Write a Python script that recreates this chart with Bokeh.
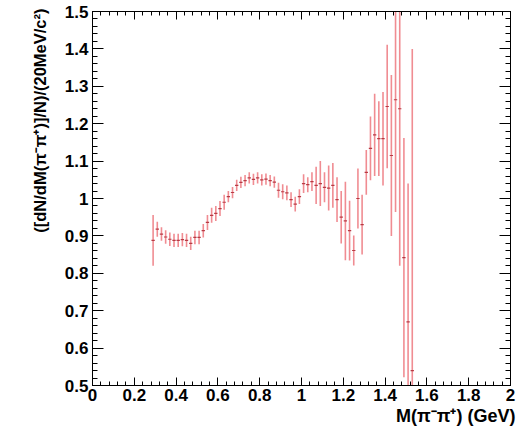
from bokeh.plotting import figure
from bokeh.models import LinearAxis, FixedTicker, Title, ColumnDataSource
from bokeh.embed import file_html
from bokeh.resources import INLINE

# bin centres (GeV), ratio values and their errors
mass = [0.29, 0.31, 0.33, 0.35, 0.37, 0.39, 0.41, 0.43, 0.45, 0.47,
        0.49, 0.51, 0.53, 0.55, 0.57, 0.59, 0.61, 0.63, 0.65, 0.67,
        0.69, 0.71, 0.73, 0.75, 0.77, 0.79, 0.81, 0.83, 0.85, 0.87,
        0.89, 0.91, 0.93, 0.95, 0.97, 0.99, 1.01, 1.03, 1.05, 1.07,
        1.09, 1.11, 1.13, 1.15, 1.17, 1.19, 1.21, 1.23, 1.25, 1.27,
        1.29, 1.31, 1.33, 1.35, 1.37, 1.39, 1.41, 1.43, 1.45, 1.47,
        1.49, 1.51, 1.53]
ratio = [0.888, 0.918, 0.905, 0.897, 0.891, 0.888, 0.888, 0.890, 0.888, 0.880,
         0.896, 0.896, 0.914, 0.936, 0.955, 0.960, 0.973, 0.990, 1.005, 1.016,
         1.035, 1.043, 1.048, 1.055, 1.051, 1.055, 1.050, 1.052, 1.048, 1.044,
         1.022, 1.018, 1.015, 0.997, 0.985, 1.005, 1.040, 1.037, 1.045, 1.035,
         1.040, 1.030, 1.028, 1.035, 0.997, 0.950, 0.940, 0.914, 0.861, 1.000,
         0.930, 1.070, 1.134, 1.170, 1.160, 1.160, 1.246, 1.115, 1.264, 1.240,
         0.842, 0.670, 0.540]
err = [0.068, 0.020, 0.018, 0.018, 0.018, 0.018, 0.018, 0.018, 0.018, 0.018,
       0.018, 0.018, 0.018, 0.020, 0.020, 0.020, 0.020, 0.020, 0.015, 0.015,
       0.015, 0.015, 0.015, 0.015, 0.015, 0.015, 0.015, 0.015, 0.015, 0.015,
       0.020, 0.020, 0.020, 0.020, 0.020, 0.020, 0.025, 0.020, 0.025, 0.050,
       0.060, 0.040, 0.060, 0.060, 0.060, 0.070, 0.105, 0.080, 0.040, 0.080,
       0.080, 0.060, 0.085, 0.110, 0.100, 0.125, 0.165, 0.215, 0.300, 0.420,
       0.320, 0.370, 0.860]
bin_half = 0.008

x_ticks = [0.0, 0.2, 0.4, 0.6, 0.8, 1.0, 1.2, 1.4, 1.6, 1.8, 2.0]
x_tick_labels = ["0", "0.2", "0.4", "0.6", "0.8", "1", "1.2", "1.4", "1.6", "1.8", "2"]
y_ticks = [0.5, 0.6, 0.7, 0.8, 0.9, 1.0, 1.1, 1.2, 1.3, 1.4, 1.5]
y_tick_labels = ["0.5", "0.6", "0.7", "0.8", "0.9", "1", "1.1", "1.2", "1.3", "1.4", "1.5"]
x_title = "M(\u03c0\u207b\u03c0\u207a) (GeV)"
y_title = "([dN/dM(\u03c0\u207b\u03c0\u207a)]/N)/(20MeV/c\u00b2)"

x_minor = [round(i * 0.04, 4) for i in range(0, 51)]
y_minor = [round(0.5 + i * 0.02, 4) for i in range(0, 51)]

src = ColumnDataSource(dict(
    x=mass, y=ratio,
    lo=[r - e for r, e in zip(ratio, err)],
    hi=[r + e for r, e in zip(ratio, err)],
    xl=[m - bin_half for m in mass],
    xr=[m + bin_half for m in mass],
))

p = figure(width=517, height=427, x_range=(0, 2), y_range=(0.5, 1.5),
           output_backend="svg", toolbar_location=None,
           min_border_left=92, min_border_right=7, min_border_top=11,
           min_border_bottom=42)
p.xgrid.visible = False
p.ygrid.visible = False
p.outline_line_color = "black"
p.outline_line_width = 1
p.background_fill_color = "white"
p.border_fill_color = "white"

p.segment(x0="x", y0="lo", x1="x", y1="hi", source=src,
          line_color="#ee7f86", line_width=1.6, line_alpha=0.9)
p.segment(x0="xl", y0="y", x1="xr", y1="y", source=src,
          line_color="#b83a44", line_width=1.2)

font = "Liberation Sans"

def style(ax, ticks, minor, labels, tin, min_in, show):
    ax.ticker = FixedTicker(ticks=ticks, minor_ticks=minor)
    ax.major_tick_in = tin
    ax.major_tick_out = 0
    ax.minor_tick_in = min_in
    ax.minor_tick_out = 0
    ax.axis_line_color = "black"
    ax.major_tick_line_color = "black"
    ax.minor_tick_line_color = "black"
    if show:
        ax.major_label_overrides = dict(zip(ticks, labels))
        ax.major_label_text_font = font
        ax.major_label_text_font_style = "bold"
        ax.major_label_text_font_size = "17px"
        ax.major_label_text_color = "black"
    else:
        ax.major_label_text_font_size = "1px"
        ax.major_label_text_color = None
        ax.major_label_standoff = 0

style(p.xaxis[0], x_ticks, x_minor, x_tick_labels, 8, 4, True)
p.xaxis[0].major_label_standoff = 3
style(p.yaxis[0], y_ticks, y_minor, y_tick_labels, 11, 5, True)
p.yaxis[0].major_label_standoff = 4

top = LinearAxis()
style(top, x_ticks, x_minor, x_tick_labels, 8, 4, False)
p.add_layout(top, "above")
right = LinearAxis()
style(right, y_ticks, y_minor, y_tick_labels, 11, 5, False)
p.add_layout(right, "right")

p.add_layout(Title(text=x_title, align="right", offset=-5, standoff=0,
                   text_font=font, text_font_style="bold",
                   text_font_size="18px", text_color="black"), "below")
p.add_layout(Title(text=y_title, align="right", offset=-3, standoff=26,
                   text_font=font, text_font_style="bold",
                   text_font_size="16.5px", text_color="black"), "left")

open("out.html", "w").write(file_html(p, INLINE))
